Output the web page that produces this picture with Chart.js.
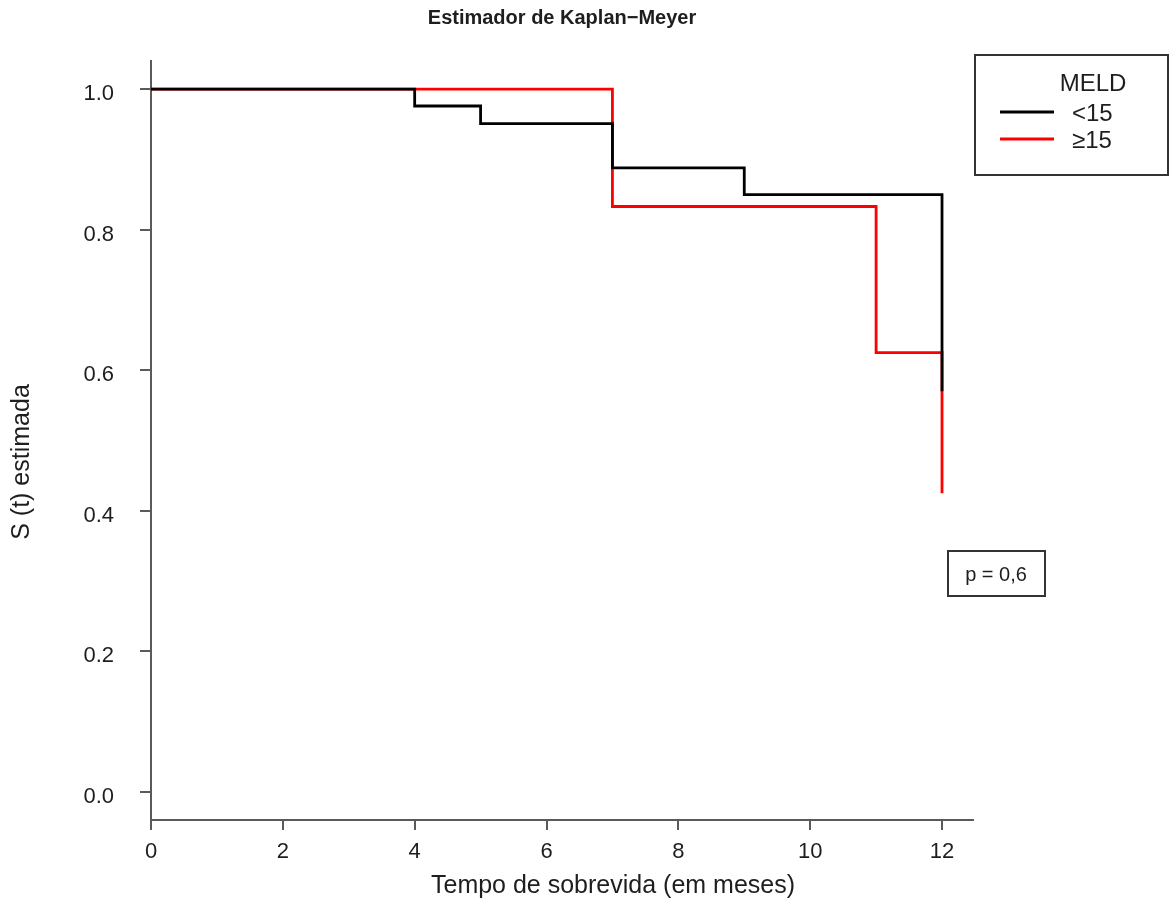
<!DOCTYPE html>
<html>
<head>
<meta charset="utf-8">
<title>Estimador de Kaplan-Meyer</title>
<script src="https://cdn.jsdelivr.net/npm/chart.js@4.4.1/dist/chart.umd.min.js"></script>
<style>
    html, body { margin: 0; padding: 0; background: #ffffff; }
    #wrap { width: 1170px; height: 898px; }
</style>
</head>
<body>
<div id="wrap"><canvas id="grafKM"></canvas></div>
<script>
const tempoMenor = [0, 4, 5, 7, 9, 12]
const survMenor = [1.0, 0.976, 0.951, 0.888, 0.850, 0.570]
const tempoMaior = [0, 7, 11, 12]
const survMaior = [1.0, 0.833, 0.625, 0.425]
const grupos = ['<15', '≥15']
const xTicks = [0, 2, 4, 6, 8, 10, 12]
const yTicks = [0.0, 0.2, 0.4, 0.6, 0.8, 1.0]

const grafKM = document.getElementById('grafKM')
const corEixo = '#5a5a5a'
const corTexto = '#1e1e1e'
const fonte = '"Liberation Sans", Arial, sans-serif'

const pontos = (xs, ys) => xs.map((x, i) => ({ x: x, y: ys[i] }))

// titulos dos eixos, legenda e caixa do p-valor, no estilo do R
const extras = {
    id: 'extras',
    afterDraw(chart) {
        const ctx = chart.ctx
        ctx.save()
        ctx.fillStyle = corTexto
        ctx.textAlign = 'center'
        ctx.textBaseline = 'middle'
        ctx.font = '25px ' + fonte
        ctx.fillText('Tempo de sobrevida (em meses)', 613, 886)
        ctx.save()
        ctx.translate(22, 462)
        ctx.rotate(-Math.PI / 2)
        ctx.fillText('S (t) estimada', 0, 0)
        ctx.restore()

        // legenda
        ctx.strokeStyle = '#333333'
        ctx.lineWidth = 2
        ctx.strokeRect(975, 55, 193, 120)
        ctx.font = '24px ' + fonte
        ctx.fillText('MELD', 1093, 84)
        ctx.textAlign = 'left'
        chart.data.datasets.forEach((ds, i) => {
            const y = 112 + i * 27
            ctx.strokeStyle = ds.borderColor
            ctx.lineWidth = 3
            ctx.beginPath()
            ctx.moveTo(1000, y)
            ctx.lineTo(1054, y)
            ctx.stroke()
            ctx.fillText(ds.label, 1072, y + 2)
        })

        // p-valor
        ctx.strokeStyle = '#333333'
        ctx.lineWidth = 2
        ctx.strokeRect(948, 551, 97, 45)
        ctx.textAlign = 'center'
        ctx.font = '20px ' + fonte
        ctx.fillText('p = 0,6', 996, 575)
        ctx.restore()
    }
}

Chart.defaults.color = corTexto
Chart.defaults.font.family = fonte

new Chart(grafKM, {
    type: 'line',
    data: {
        datasets: [{
            label: grupos[0],
            data: pontos(tempoMenor, survMenor),
            borderColor: '#000000',
            borderWidth: 2.8,
            stepped: true,
            pointRadius: 0,
            fill: false
        }, {
            label: grupos[1],
            data: pontos(tempoMaior, survMaior),
            borderColor: '#ff0000',
            borderWidth: 2.8,
            stepped: true,
            pointRadius: 0,
            fill: false
        }]
    },
    options: {
        responsive: true,
        maintainAspectRatio: false,
        animation: false,
        layout: {
            padding: { top: 0, right: 197, bottom: 0, left: 0 }
        },
        scales: {
            x: {
                type: 'linear',
                min: 0,
                max: 12.47,
                afterBuildTicks: (scale) => { scale.ticks = xTicks.map(v => ({ value: v })) },
                afterFit: (scale) => { scale.height = 78 },
                grid: {
                    drawOnChartArea: false,
                    drawTicks: true,
                    tickLength: 10,
                    color: corEixo,
                    lineWidth: 2
                },
                border: { display: true, color: corEixo, width: 2 },
                ticks: {
                    padding: 9,
                    font: { size: 22 },
                    color: corTexto,
                    maxRotation: 0
                }
            },
            y: {
                type: 'linear',
                min: -0.04,
                max: 1.04,
                afterBuildTicks: (scale) => { scale.ticks = yTicks.map(v => ({ value: v })) },
                afterFit: (scale) => { scale.width = 151 },
                grid: {
                    drawOnChartArea: false,
                    drawTicks: true,
                    tickLength: 11,
                    color: corEixo,
                    lineWidth: 2
                },
                border: { display: true, color: corEixo, width: 2 },
                ticks: {
                    padding: 26,
                    labelOffset: 5,
                    font: { size: 22 },
                    color: corTexto,
                    callback: (v) => v.toFixed(1)
                }
            }
        },
        plugins: {
            legend: { display: false },
            tooltip: { enabled: false },
            title: {
                display: true,
                fullSize: false,
                text: 'Estimador de Kaplan−Meyer',
                color: corTexto,
                font: { size: 20, weight: 'bold', lineHeight: 1.2 },
                padding: { top: 6, bottom: 31 }
            }
        }
    },
    plugins: [extras]
})
</script>
</body>
</html>
